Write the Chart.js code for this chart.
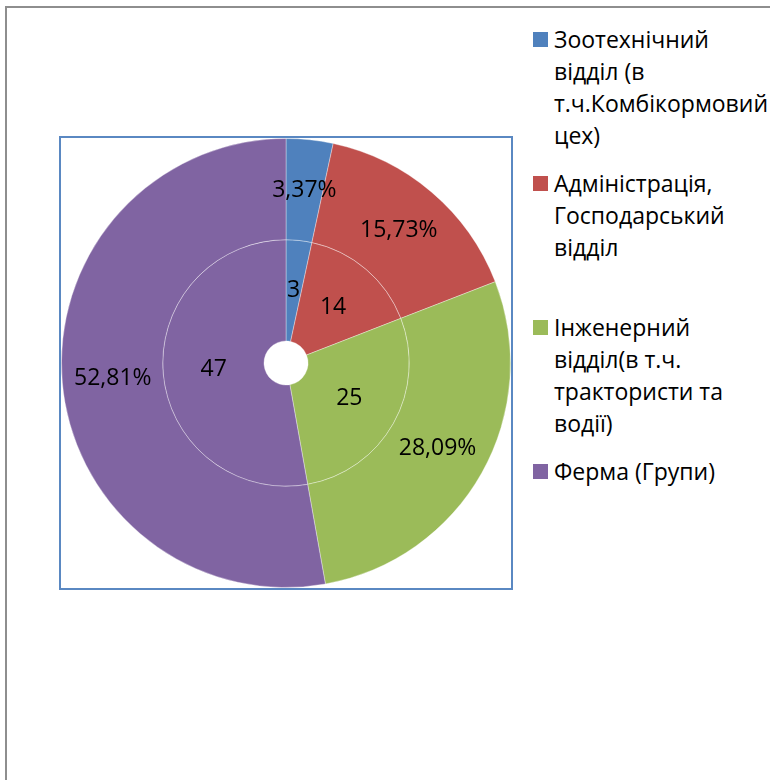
<!DOCTYPE html>
<html>
<head>
<meta charset="utf-8">
<script src="https://cdn.jsdelivr.net/npm/chart.js@4"></script>
<style>
  body { margin: 0; background: #fff; width: 770px; height: 780px; overflow: hidden; position: relative; font-family: "Open Sans", sans-serif; }
  #frame { position: absolute; left: 5px; top: 6px; width: 820px; height: 820px; border: 2px solid #8e8e8e; }
  #plot { position: absolute; left: 61px; top: 138px; width: 450px; height: 450px; outline: 2px solid #5a88c2; }
  #legend { position: absolute; left: 533px; top: 0; }
  .item { position: absolute; left: 0; width: 240px; }
  .swatch { position: absolute; left: 0; top: 9px; width: 15px; height: 15px; }
  .text { position: absolute; left: 21px; top: 0; font-size: 23px; line-height: 32px; color: #000; white-space: nowrap; }
</style>
</head>
<body>
<div id="frame"></div>
<div id="plot"><canvas id="donut" width="450" height="450"></canvas></div>
<div id="legend"></div>
<script>
const categories = [
  ["Зоотехнічний", "відділ (в", "т.ч.Комбікормовий", "цех)"],
  ["Адміністрація,", "Господарський", "відділ"],
  ["Інженерний", "відділ(в т.ч.", "трактористи та", "водії)"],
  ["Ферма (Групи)"]
];
const workers = [3, 14, 25, 47];
const colors = ["#4f81bd", "#c0504d", "#9bbb59", "#8064a2"];

const total = workers.reduce((a, b) => a + b, 0);
const percentText = (v) => (v / total * 100).toFixed(2).replace(".", ",") + "%";

// labels in the middle of every ring segment
const sliceLabels = {
  id: "sliceLabels",
  afterDatasetsDraw(chart) {
    const ctx = chart.ctx;
    ctx.save();
    ctx.font = '23px "Open Sans"';
    ctx.fillStyle = "#000";
    ctx.textAlign = "center";
    ctx.textBaseline = "middle";
    chart.data.datasets.forEach((ds, di) => {
      chart.getDatasetMeta(di).data.forEach((arc, i) => {
        const pos = arc.tooltipPosition();
        const txt = di === 0 ? percentText(ds.data[i]) : String(ds.data[i]);
        ctx.fillText(txt, pos.x, pos.y);
      });
    });
    ctx.restore();
  }
};

const chart = new Chart(document.getElementById("donut"), {
  type: "doughnut",
  data: {
    labels: categories,
    datasets: [
      { data: workers, backgroundColor: colors, borderWidth: 1, borderColor: "rgba(255,255,255,0.35)" },
      { data: workers, backgroundColor: colors, borderWidth: 1, borderColor: "rgba(255,255,255,0.35)" }
    ]
  },
  options: {
    responsive: false,
    animation: false,
    cutout: "9.8%",
    plugins: {
      legend: { display: false },
      tooltip: { enabled: false }
    }
  },
  plugins: [sliceLabels]
});

const legend = document.getElementById("legend");
chart.data.labels.forEach((lines, i) => {
  const item = document.createElement("div");
  item.className = "item";
  item.style.top = (23 + i * 144) + "px";
  const sw = document.createElement("div");
  sw.className = "swatch";
  sw.style.background = chart.data.datasets[0].backgroundColor[i];
  const tx = document.createElement("div");
  tx.className = "text";
  tx.innerHTML = lines.join("<br>");
  item.appendChild(sw);
  item.appendChild(tx);
  legend.appendChild(item);
});
</script>
</body>
</html>
